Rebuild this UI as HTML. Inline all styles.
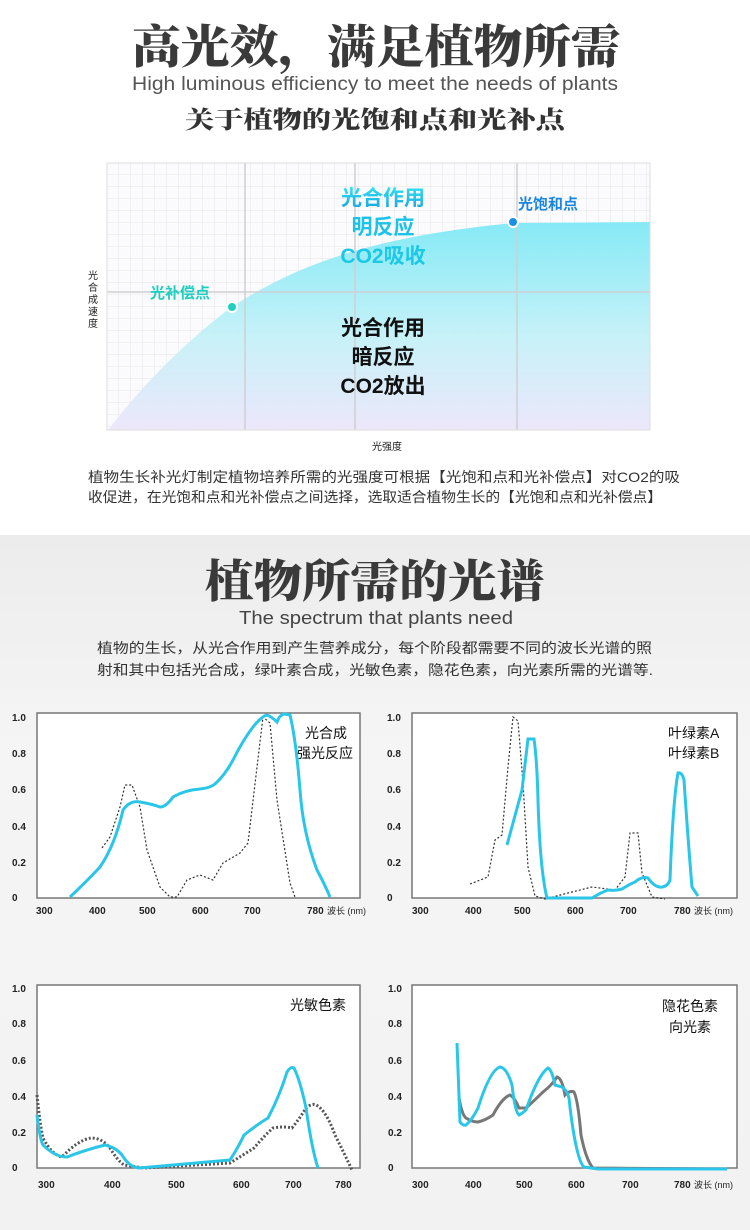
<!DOCTYPE html>
<html><head><meta charset="utf-8"><style>
html,body{margin:0;padding:0;background:#fff}
svg{display:block}
.s{font-family:"Liberation Sans","Noto Sans CJK SC",sans-serif}
.t{font-family:"Liberation Serif","Noto Serif CJK SC",serif;font-weight:900}
.ax{font-family:"Liberation Sans",sans-serif;font-size:10px;font-weight:bold;fill:#222}
</style></head><body>
<svg width="750" height="1230" viewBox="0 0 750 1230" xmlns="http://www.w3.org/2000/svg">
<defs>
<linearGradient id="bg2" x1="0" y1="0" x2="0" y2="1"><stop offset="0" stop-color="#ececec"/><stop offset="0.3" stop-color="#f5f5f5"/><stop offset="1" stop-color="#f2f2f2"/></linearGradient>
<linearGradient id="fill" x1="0" y1="0" x2="0" y2="1"><stop offset="0" stop-color="#7fe9f5"/><stop offset="0.55" stop-color="#c4f1f8"/><stop offset="1" stop-color="#ece6fa"/></linearGradient>
<linearGradient id="cy" x1="0" y1="0" x2="0" y2="1"><stop offset="0" stop-color="#2de0f0"/><stop offset="1" stop-color="#1aa3e0"/></linearGradient>
<pattern id="grid" width="12" height="12" patternUnits="userSpaceOnUse" x="107" y="163"><path d="M12 0V12M0 12H12" stroke="#e4e4e8" stroke-width="1" fill="none"/></pattern>
</defs>
<rect x="0" y="0" width="750" height="535" fill="#fff"/>
<rect x="0" y="535" width="750" height="695" fill="url(#bg2)"/>
<text x="132" y="63" textLength="488" lengthAdjust="spacingAndGlyphs" class="t" font-size="46" fill="#3a3a3a">高光效，满足植物所需</text>
<text x="132" y="90" textLength="486" lengthAdjust="spacingAndGlyphs" class="s" font-size="19" fill="#555">High luminous efficiency to meet the needs of plants</text>
<text x="185" y="128" textLength="380" lengthAdjust="spacingAndGlyphs" class="t" font-size="24" fill="#333">关于植物的光饱和点和光补点</text>
<!-- top chart -->
<rect x="107" y="163" width="543" height="267" fill="#fbfbfd"/>
<rect x="107" y="163" width="543" height="267" fill="url(#grid)"/>
<path d="M108 430 C150 375,200 330,232 307 C300 262,380 236,513 223 L650 222 L650 430 Z" fill="url(#fill)" opacity="0.95"/>
<g stroke="#cfcfd4" stroke-width="1.5"><line x1="245" y1="163" x2="245" y2="430"/><line x1="355" y1="163" x2="355" y2="430"/><line x1="517" y1="163" x2="517" y2="430"/><line x1="107" y1="292" x2="650" y2="292"/></g>
<rect x="107" y="163" width="543" height="267" fill="none" stroke="#ddd"/>
<circle cx="232" cy="307" r="5" fill="#1fd0c0" stroke="#fff" stroke-width="2"/>
<circle cx="513" cy="222" r="5" fill="#1a8fe8" stroke="#fff" stroke-width="2"/>
<g class="s" font-weight="bold" text-anchor="middle" font-size="21">
<text x="383" y="205" fill="url(#cy)">光合作用</text><text x="383" y="234" fill="#1cc3e8">明反应</text><text x="383" y="263" fill="#1cc8e6">CO2吸收</text>
<text x="383" y="335" fill="#111">光合作用</text><text x="383" y="364" fill="#111">暗反应</text><text x="383" y="393" fill="#111">CO2放出</text>
</g>
<text x="150" y="298" class="s" font-weight="bold" font-size="15" fill="#1ccfbe">光补偿点</text>
<text x="518" y="209" class="s" font-weight="bold" font-size="15" fill="#1a86e0">光饱和点</text>
<g class="s" font-size="10" fill="#222" text-anchor="middle"><text x="93" y="279">光</text><text x="93" y="291">合</text><text x="93" y="303">成</text><text x="93" y="315">速</text><text x="93" y="327">度</text></g>
<text x="387" y="450" class="s" font-size="10" fill="#222" text-anchor="middle">光强度</text>
<g class="s" font-size="14" fill="#333"><text x="88" y="482" textLength="592" lengthAdjust="spacingAndGlyphs">植物生长补光灯制定植物培养所需的光强度可根据【光饱和点和光补偿点】对CO2的吸</text><text x="88" y="502" textLength="574" lengthAdjust="spacingAndGlyphs">收促进，在光饱和点和光补偿点之间选择，选取适合植物生长的【光饱和点和光补偿点】</text></g>
<!-- section 2 -->
<text x="205" y="597" textLength="340" lengthAdjust="spacingAndGlyphs" class="t" font-size="45" fill="#3a3a3a">植物所需的光谱</text>
<text x="239" y="624" textLength="274" lengthAdjust="spacingAndGlyphs" class="s" font-size="18" fill="#444">The spectrum that plants need</text>
<g class="s" font-size="14" fill="#333"><text x="97" y="653" textLength="555" lengthAdjust="spacingAndGlyphs">植物的生长，从光合作用到产生营养成分，每个阶段都需要不同的波长光谱的照</text><text x="97" y="675" textLength="556" lengthAdjust="spacingAndGlyphs">射和其中包括光合成，绿叶素合成，光敏色素，隐花色素，向光素所需的光谱等.</text></g>
<!-- chart boxes -->
<g fill="#fff" stroke="#777" stroke-width="1.5"><rect x="37" y="713" width="323" height="185"/><rect x="412" y="713" width="325" height="185"/><rect x="37" y="985" width="323" height="183"/><rect x="412" y="985" width="325" height="183"/></g>
<g class="ax"><text x="12" y="721">1.0</text><text x="12" y="757">0.8</text><text x="12" y="793">0.6</text><text x="12" y="830">0.4</text><text x="12" y="866">0.2</text><text x="12" y="901">0</text>
<text x="36" y="914">300</text><text x="89" y="914">400</text><text x="139" y="914">500</text><text x="192" y="914">600</text><text x="244" y="914">700</text><text x="307" y="914">780</text><text x="327" y="914" font-weight="normal" font-size="9">波长 (nm)</text>
<text x="387" y="721">1.0</text><text x="387" y="757">0.8</text><text x="387" y="793">0.6</text><text x="387" y="830">0.4</text><text x="387" y="866">0.2</text><text x="387" y="901">0</text>
<text x="412" y="914">300</text><text x="465" y="914">400</text><text x="514" y="914">500</text><text x="567" y="914">600</text><text x="620" y="914">700</text><text x="674" y="914">780</text><text x="694" y="914" font-weight="normal" font-size="9">波长 (nm)</text>
<text x="12" y="992">1.0</text><text x="12" y="1027">0.8</text><text x="12" y="1064">0.6</text><text x="12" y="1100">0.4</text><text x="12" y="1136">0.2</text><text x="12" y="1171">0</text>
<text x="38" y="1188">300</text><text x="104" y="1188">400</text><text x="168" y="1188">500</text><text x="233" y="1188">600</text><text x="285" y="1188">700</text><text x="335" y="1188">780</text>
<text x="388" y="992">1.0</text><text x="388" y="1027">0.8</text><text x="388" y="1064">0.6</text><text x="388" y="1100">0.4</text><text x="388" y="1136">0.2</text><text x="388" y="1171">0</text>
<text x="412" y="1188">300</text><text x="465" y="1188">400</text><text x="516" y="1188">500</text><text x="568" y="1188">600</text><text x="622" y="1188">700</text><text x="674" y="1188">780</text><text x="694" y="1188" font-weight="normal" font-size="9">波长 (nm)</text>
</g>
<!-- chart1 -->
<path d="M102 848 L110 837 L120 807 L125 785 L132 785 L140 807 L147 850 L160 887 L170 897 L177 897 L187 880 L200 875 L213 880 L223 863 L240 853 L248 843 L257 767 L263 717 L270 723 L277 800 L290 883 L295 897" fill="none" stroke="#333" stroke-width="1.2" stroke-dasharray="2,2"/>
<path d="M70 897 Q88 880 100 867 Q115 845 123 810 Q130 800 140 802 Q152 804 160 807 Q166 807 173 797 Q185 790 200 789 Q210 788 215 784 Q225 775 233 760 Q243 740 253 727 Q262 716 267 715 Q272 717 277 722 Q280 714 285 714 L290 715 Q296 740 300 790 Q303 833 317 870 Q325 885 330 897" fill="none" stroke="#2ac6e8" stroke-width="3"/>
<g class="s" font-size="14" fill="#111"><text x="305" y="738">光合成</text><text x="297" y="758">强光反应</text></g>
<!-- chart2 -->
<path d="M470 884 L488 877 L495 840 L502 835 L508 767 L513 717 L518 721 L523 783 L528 867 L535 896 L545 899 L568 893 L592 887 L615 890 L625 877 L630 833 L638 833 L642 873 L652 897 L665 899" fill="none" stroke="#333" stroke-width="1.2" stroke-dasharray="2,2"/>
<path d="M507 845 L522 790 L528 739 L534 739 Q537 760 538 800 Q540 870 547 898 L592 898 Q600 893 608 890 Q615 891 622 889 Q630 884 635 882 Q642 876 648 878 Q655 888 662 887 Q668 886 670 880 Q673 800 678 773 Q682 772 684 780 Q688 840 692 887 L698 896" fill="none" stroke="#2ac6e8" stroke-width="3"/>
<g class="s" font-size="14" fill="#111"><text x="668" y="738">叶绿素A</text><text x="668" y="758">叶绿素B</text></g>
<!-- chart3 -->
<path d="M37 1095 Q40 1125 43 1138 Q52 1155 62 1157 Q78 1140 91 1138 Q102 1138 110 1148 Q117 1160 124 1165 L144 1168 L230 1163 Q243 1155 254 1148 Q265 1135 273 1128 Q283 1126 292 1128 Q300 1118 306 1108 Q312 1103 316 1105 Q326 1110 335 1135 Q345 1155 352 1170" fill="none" stroke="#555" stroke-width="3" stroke-dasharray="2,2"/>
<path d="M37 1115 Q40 1140 43 1145 Q55 1157 67 1157 Q85 1150 105 1145 Q118 1148 124 1158 Q130 1167 139 1168 L230 1160 Q238 1148 244 1135 Q258 1124 268 1118 Q280 1095 287 1072 Q291 1066 294 1068 Q300 1080 306 1108 Q312 1150 318 1168" fill="none" stroke="#2ac6e8" stroke-width="3"/>
<text x="290" y="1010" class="s" font-size="14" fill="#111">光敏色素</text>
<!-- chart4 -->
<path d="M459 1098 Q462 1115 466 1118 Q472 1122 478 1122 Q486 1120 493 1115 Q502 1098 510 1095 Q515 1098 519 1108 L526 1108 Q535 1100 543 1092 Q552 1085 557 1077 Q562 1078 565 1095 Q570 1090 574 1092 Q578 1100 581 1135 Q586 1160 593 1168 L727 1169" fill="none" stroke="#777" stroke-width="3"/>
<path d="M457 1043 Q459 1100 460 1122 Q463 1126 466 1125 Q472 1120 478 1108 Q490 1070 500 1067 Q507 1068 512 1085 Q515 1112 519 1115 Q523 1113 526 1110 Q538 1075 548 1068 Q552 1070 555 1085 L562 1087 Q567 1090 569 1098 Q571 1118 574 1135 Q579 1163 584 1167 L598 1169 L727 1169" fill="none" stroke="#2ac6e8" stroke-width="3"/>
<g class="s" font-size="14" fill="#111"><text x="662" y="1011">隐花色素</text><text x="669" y="1032">向光素</text></g>
</svg>
</body></html>
